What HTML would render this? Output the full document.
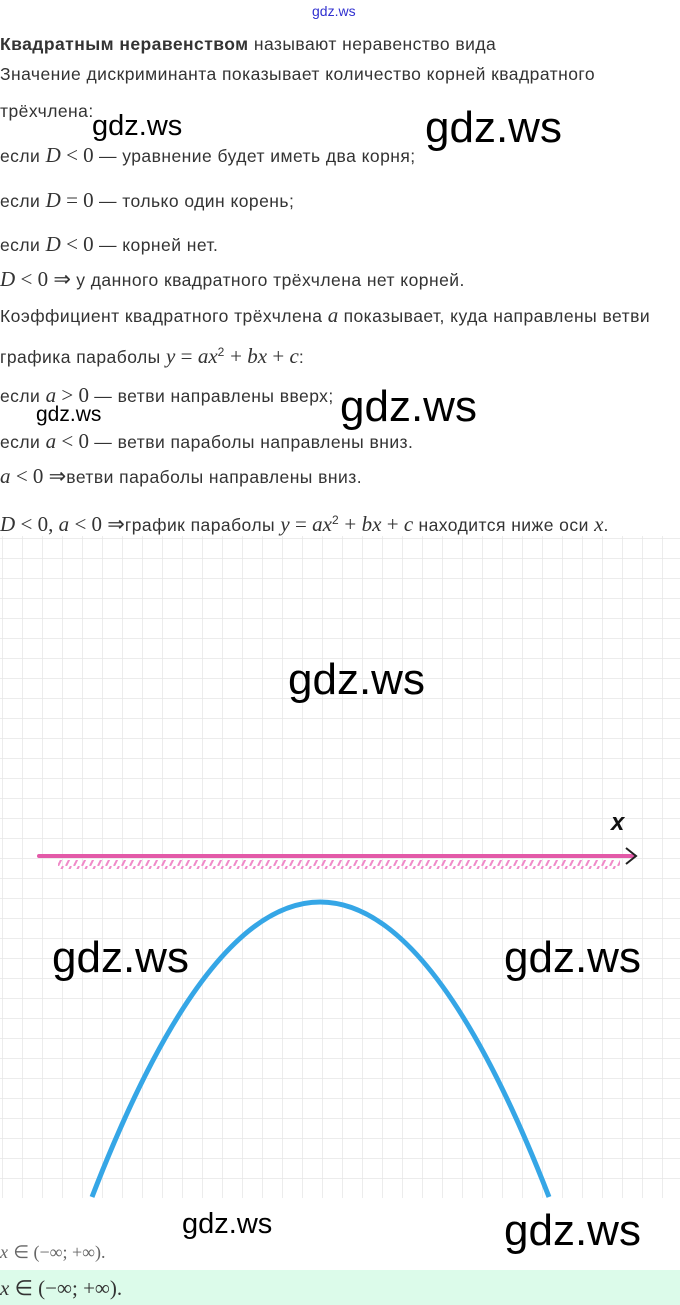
<!DOCTYPE html>
<html><head><meta charset="utf-8"><style>
body{margin:0;width:680px;height:1305px;position:relative;background:#fff;font-family:"Liberation Sans",sans-serif;color:#333;overflow:hidden}
.l{position:absolute;left:0;font-size:17.5px;white-space:nowrap;line-height:20px;letter-spacing:0.45px}
.m{font-family:"Liberation Serif",serif;font-style:italic;font-size:21px;letter-spacing:0}
.n{font-family:"Liberation Serif",serif;font-size:21px;letter-spacing:0}
.w{position:absolute;font-family:"Liberation Sans",sans-serif;color:#000;white-space:nowrap}
</style></head><body>
<div class="w" style="left:312px;top:3px;font-size:14px;color:#3030d0">gdz.ws</div>
<div class="l" style="top:34px"><b>Квадратным неравенством</b> называют неравенство вида</div>
<div class="l" style="top:64px">Значение дискриминанта показывает количество корней квадратного</div>
<div class="l" style="top:101px">трёхчлена:</div>
<div class="l" style="top:145px">если <span class="m">D</span> <span class="n">&lt; 0</span> — уравнение будет иметь два корня;</div>
<div class="l" style="top:190px">если <span class="m">D</span> <span class="n">= 0</span> — только один корень;</div>
<div class="l" style="top:234px">если <span class="m">D</span> <span class="n">&lt; 0</span> — корней нет.</div>
<div class="l" style="top:269px"><span class="m">D</span> <span class="n">&lt; 0 ⇒</span> у данного квадратного трёхчлена нет корней.</div>
<div class="l" style="top:305px">Коэффициент квадратного трёхчлена <span class="m">a</span> показывает, куда направлены ветви</div>
<div class="l" style="top:342px">графика параболы <span class="m">y</span> <span class="n">=</span> <span class="m">ax</span><sup style="font-size:12px">2</sup> <span class="n">+</span> <span class="m">bx</span> <span class="n">+</span> <span class="m">c</span>:</div>
<div class="l" style="top:385px">если <span class="m">a</span> <span class="n">&gt; 0</span> — ветви направлены вверх;</div>
<div class="l" style="top:431px">если <span class="m">a</span> <span class="n">&lt; 0</span> — ветви параболы направлены вниз.</div>
<div class="l" style="top:466px"><span class="m">a</span> <span class="n">&lt; 0 ⇒</span>ветви параболы направлены вниз.</div>
<div class="l" style="top:510px"><span class="m">D</span> <span class="n">&lt; 0,</span> <span class="m">a</span> <span class="n">&lt; 0 ⇒</span>график параболы <span class="m">y</span> <span class="n">=</span> <span class="m">ax</span><sup style="font-size:12px">2</sup> <span class="n">+</span> <span class="m">bx</span> <span class="n">+</span> <span class="m">c</span> находится ниже оси <span class="m">x</span>.</div>
<svg style="position:absolute;left:0;top:536px" width="680" height="662">
<defs><pattern id="g" width="20" height="20" patternUnits="userSpaceOnUse" x="2" y="2"><path d="M0 0H20M0 0V20" stroke="#e6e6e6" stroke-width="1.5" fill="none"/></pattern>
<pattern id="h" width="8" height="10" patternUnits="userSpaceOnUse"><path d="M2 10L7 0" stroke="#f08ac8" stroke-width="2"/></pattern></defs>
<rect width="680" height="662" fill="url(#g)"/>
<rect x="58" y="324" width="562" height="9" fill="url(#h)"/>
<line x1="39" y1="320" x2="634" y2="320" stroke="#e35aa8" stroke-width="4" stroke-linecap="round"/>
<path d="M626 312L636 320L626 328" stroke="#222" stroke-width="2" fill="none"/>
<text x="611" y="294" font-family="Liberation Sans" font-style="italic" font-weight="bold" font-size="24" fill="#111">x</text>
<path d="M92 661 Q320 71 549 661" stroke="#35a6e6" stroke-width="5" fill="none"/>
</svg>
<div class="w" style="left:92px;top:110px;font-size:29px">gdz.ws</div>
<div class="w" style="left:425px;top:103px;font-size:44px">gdz.ws</div>
<div class="w" style="left:36px;top:403px;font-size:21px">gdz.ws</div>
<div class="w" style="left:340px;top:382px;font-size:44px">gdz.ws</div>
<div class="w" style="left:288px;top:655px;font-size:44px">gdz.ws</div>
<div class="w" style="left:52px;top:933px;font-size:44px">gdz.ws</div>
<div class="w" style="left:504px;top:933px;font-size:44px">gdz.ws</div>
<div class="w" style="left:182px;top:1208px;font-size:29px">gdz.ws</div>
<div class="w" style="left:504px;top:1206px;font-size:44px">gdz.ws</div>
<div class="l" style="top:1242px;color:#666"><span class="m" style="font-size:18px">x</span> <span class="n" style="font-size:18px">∈ (−∞; +∞).</span></div>
<div style="position:absolute;left:0;top:1270px;width:680px;height:35px;background:#dcfbea"></div>
<div class="l" style="top:1278px"><span class="m">x</span> <span class="n">∈ (−∞; +∞).</span></div>
</body></html>
